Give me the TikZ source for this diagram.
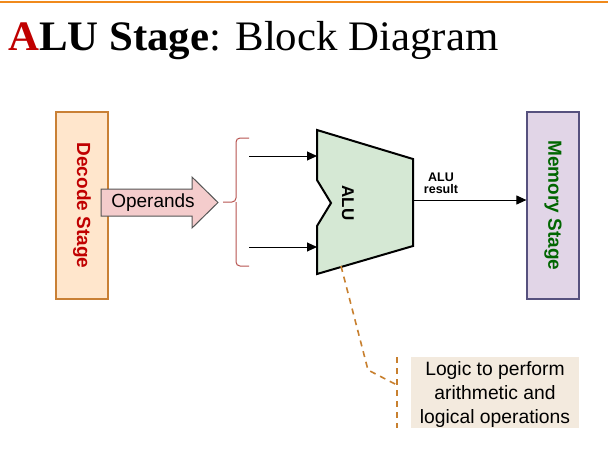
\documentclass[tikz,border=0pt]{standalone}
\usepackage{fontspec}
\setmainfont{Liberation Serif}
\setsansfont{Liberation Sans}
\usetikzlibrary{arrows.meta}
\definecolor{topline}{HTML}{F08A1C}
\definecolor{titlered}{HTML}{C00000}
\definecolor{decfill}{HTML}{FFE6CC}
\definecolor{decdraw}{HTML}{C98035}
\definecolor{decText}{HTML}{C00000}
\definecolor{memfill}{HTML}{E1D5E7}
\definecolor{memdraw}{HTML}{56517E}
\definecolor{memText}{HTML}{006600}
\definecolor{opfill}{HTML}{F4CCCC}
\definecolor{opdraw}{HTML}{555555}
\definecolor{alufill}{HTML}{D5E8D4}
\definecolor{bracecol}{HTML}{B85450}
\definecolor{notecol}{HTML}{C8802F}
\definecolor{notefill}{HTML}{F3EADE}
\begin{document}
\begin{tikzpicture}[x=1pt,y=-1pt,
  stagebox/.style={draw, line width=1.2pt, rotate=-90, minimum width=187pt, minimum height=52pt,
    font=\sffamily\bfseries\fontsize{19}{22}\selectfont, inner sep=0pt},
  feed/.style={-{Triangle[length=10pt,width=9pt]}, line width=1pt},
  notelink/.style={notecol, line width=1.6pt, dash pattern=on 6pt off 5pt}
]
\useasboundingbox (0,0) rectangle (608,451);
\fill[white] (0,0) rectangle (608,451);
% top line
\draw[topline, line width=2pt] (0,2) -- (608,2);
% title
\node[anchor=base west, inner sep=0pt, font=\fontsize{42}{48}\selectfont] (title) at (8,50)
  {\scalebox{1.02}[1]{\textbf{\textcolor{titlered}{A}LU Stage}: Block Diagram}};
% decode
\node[stagebox, fill=decfill, draw=decdraw, text=decText] (decode) at (82,205.5) {Decode Stage};
% memory
\node[stagebox, fill=memfill, draw=memdraw, text=memText] (memory) at (553,205.5) {Memory Stage};
% operands arrow
\draw[fill=opfill, draw=opdraw, line width=1pt] (101,189) -- (192,189) -- (192,177) -- (218,202.5)
  -- (192,228) -- (192,216) -- (101,216) -- cycle;
\node[font=\sffamily\fontsize{19}{22}\selectfont, inner sep=0pt] (operands) at (153,203) {Operands};
% brace
\coordinate (btop) at (249,138);
\coordinate (bbot) at (249,266);
\coordinate (btip) at (223,202);
\draw[bracecol, line width=1pt, rounded corners=4pt] (btop) -- (236,138) -- (236,202) -- (btip);
\draw[bracecol, line width=1pt, rounded corners=4pt] (bbot) -- (236,266) -- (236,202);
% ALU
\coordinate (alu-tl) at (317,130);
\coordinate (alu-tr) at (413,159);
\coordinate (alu-br) at (413,246);
\coordinate (alu-bl) at (317,274);
\coordinate (in1) at (317,156);
\coordinate (in2) at (317,247);
\coordinate (aluout) at (413,200);
\coordinate (alunote) at (341,266);
\draw[fill=alufill, line width=2pt, line join=miter] (alu-tl) -- (alu-tr) -- (alu-br) -- (alu-bl)
  -- (317,226) -- (331,203) -- (317,180) -- cycle;
\node[rotate=-90, font=\sffamily\bfseries\fontsize{17}{20}\selectfont, inner sep=0pt] (alu) at (348,203) {ALU};
% inputs
\coordinate (src1) at (249,156);
\coordinate (src2) at (249,247);
\draw[feed] (src1) -- (in1);
\draw[feed] (src2) -- (in2);
% output
\draw[feed] (aluout) -- (aluout -| memory.south);
\node[font=\sffamily\bfseries\fontsize{12.5}{12.5}\selectfont, align=center, inner sep=0pt] (result) at (441,183.5) {ALU\\result};
% note
\node[fill=notefill, minimum width=168pt, minimum height=71pt, inner sep=0pt] (note) at (495,392.5) {};
\node[inner sep=0pt, align=center, font=\sffamily\fontsize{19.3}{24}\selectfont] (notetext) at (495,394.5)
  {Logic to perform\\arithmetic and\\logical operations};
\coordinate (ntop) at (397,357);
\coordinate (nbot) at (397,428);
\coordinate (nmid) at (397,385);
\draw[notelink] (ntop) -- (nbot);
\draw[notelink] (alunote) -- (368,370) -- (nmid);
\end{tikzpicture}
\end{document}
